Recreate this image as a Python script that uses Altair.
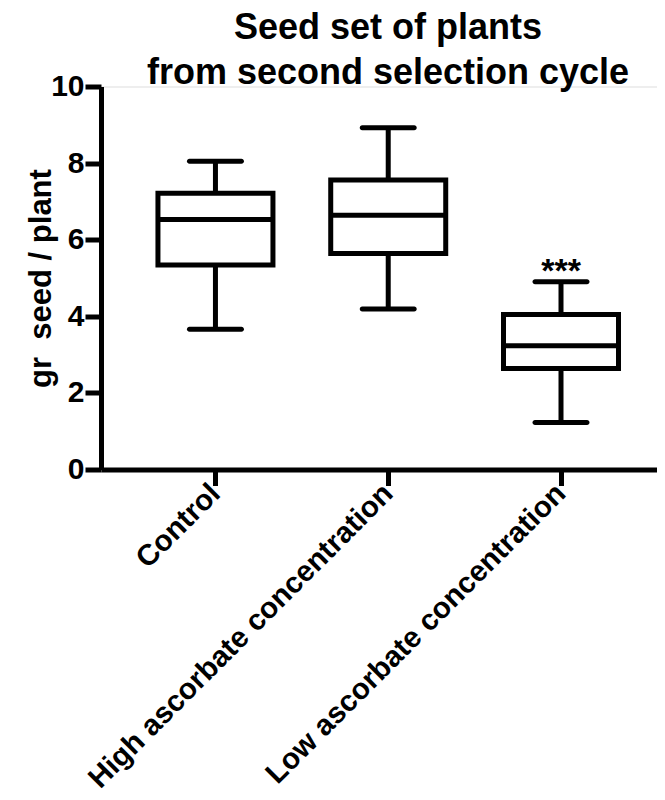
import altair as alt
import pandas as pd

groups = ["Control", "High ascorbate concentration", "Low ascorbate concentration"]
whisker_low = [3.66, 4.19, 1.23]
q1 = [5.34, 5.64, 2.64]
median = [6.53, 6.64, 3.23]
q3 = [7.21, 7.56, 4.05]
whisker_high = [8.05, 8.92, 4.90]
significance = ["", "", "***"]

df = pd.DataFrame({
    "group": groups,
    "lo": whisker_low,
    "q1": q1,
    "med": median,
    "q3": q3,
    "hi": whisker_high,
    "sig": significance,
})

FONT = "Liberation Sans"

x_enc = alt.X(
    "group:N",
    sort=groups,
    title=None,
    scale=alt.Scale(paddingInner=0, paddingOuter=0.109, align=0.745),
    axis=alt.Axis(
        labelAngle=315,
        labelAlign="right",
        labelBaseline="middle",
        labelFont=FONT,
        labelFontWeight="bold",
        labelFontSize=29.5,
        labelColor="black",
        labelPadding=3,
        tickSize=16,
        tickWidth=5,
        tickColor="black",
        domainWidth=5,
        domainColor="black",
        labelLimit=1000,
    ),
)

y_scale = alt.Scale(domain=[0, 10], nice=False)
y_axis = alt.Axis(
    values=[0, 2, 4, 6, 8, 10],
    title="gr\u00a0 seed / plant",
    titleFont=FONT,
    titleFontWeight="bold",
    titleFontSize=31,
    titleColor="black",
    titleX=-60,
    titleBaseline="middle",
    labelFont=FONT,
    labelFontWeight="bold",
    labelFontSize=30,
    labelColor="black",
    labelPadding=1,
    tickSize=16,
    tickWidth=5,
    tickColor="black",
    domainWidth=5,
    domainColor="black",
    grid=False,
)

base = alt.Chart(df)

whiskers = base.mark_rule(color="black", strokeWidth=5).encode(
    x=x_enc,
    y=alt.Y("lo:Q", scale=y_scale, axis=y_axis),
    y2="hi:Q",
)

boxes = base.mark_bar(size=115, fill="white", stroke="black", strokeWidth=5).encode(
    x=x_enc,
    y=alt.Y("q1:Q", scale=y_scale),
    y2="q3:Q",
)

medians = base.mark_tick(size=115, thickness=5, color="black", opacity=1).encode(
    x=x_enc,
    y=alt.Y("med:Q", scale=y_scale),
)

caps_low = base.mark_tick(size=57, thickness=5, color="black", opacity=1, cornerRadius=2.5).encode(
    x=x_enc,
    y=alt.Y("lo:Q", scale=y_scale),
)

caps_high = base.mark_tick(size=57, thickness=5, color="black", opacity=1, cornerRadius=2.5).encode(
    x=x_enc,
    y=alt.Y("hi:Q", scale=y_scale),
)

stars = base.mark_text(
    font=FONT, fontWeight="bold", fontSize=34, color="black",
    baseline="alphabetic", dy=0,
).encode(
    x=x_enc,
    y=alt.Y("hi:Q", scale=y_scale),
    text="sig:N",
)

chart = alt.layer(whiskers, boxes, medians, caps_low, caps_high, stars).properties(
    width=556,
    height=383,
    title=alt.TitleParams(
        text=["Seed set of plants", "from second selection cycle"],
        font=FONT,
        fontWeight="bold",
        fontSize=36,
        lineHeight=45,
        color="black",
        anchor="middle",
        dx=9,
        dy=20,
        offset=0,
    ),
    autosize=alt.AutoSizeParams(type="none"),
    padding={"left": 93, "top": 78.5, "right": 0, "bottom": 326},
).configure_view(stroke=None).configure(background="white")

chart.save("out.html", embed_options={"renderer": "svg", "actions": False})
